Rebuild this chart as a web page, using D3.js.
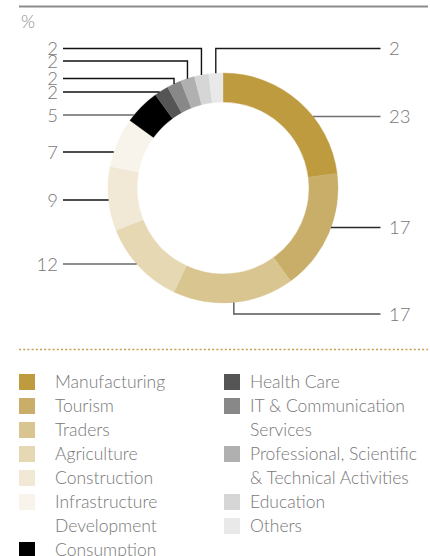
<!DOCTYPE html>
<html>
<head>
<meta charset="utf-8">
<script src="https://cdn.jsdelivr.net/npm/d3@7"></script>
<style>
  html, body { margin: 0; padding: 0; background: #fff; }
  svg { display: block; font-family: Lato, "Open Sans", sans-serif; font-weight: 300; }
</style>
</head>
<body>
<svg id="chart" width="430" height="556"></svg>
<script>
// Sector shares (%), in order around the ring, clockwise from 12 o'clock
const sectors = ["Manufacturing", "Tourism", "Traders", "Agriculture", "Construction",
  "Infrastructure Development", "Consumption", "Health Care", "IT & Communication Services",
  "Professional, Scientific & Technical Activities", "Education", "Others"];
const shares = [23, 17, 17, 12, 9, 7, 5, 2, 2, 2, 2, 2];
const sectorColors = ["#bf9b40", "#c9ae69", "#d8c58f", "#e6d8b3", "#f1e8d5", "#f8f4ec",
  "#000000", "#555555", "#888888", "#b0b0b0", "#d6d6d6", "#e9e9e9"];

// Legend lines (wrapped text) for each column
const legendLeft = [
  { key: 0, lines: ["Manufacturing"] },
  { key: 1, lines: ["Tourism"] },
  { key: 2, lines: ["Traders"] },
  { key: 3, lines: ["Agriculture"] },
  { key: 4, lines: ["Construction"] },
  { key: 5, lines: ["Infrastructure", "Development"] },
  { key: 6, lines: ["Consumption"] }
];
const legendRight = [
  { key: 7, lines: ["Health Care"] },
  { key: 8, lines: ["IT & Communication", "Services"] },
  { key: 9, lines: ["Professional, Scientific", "& Technical Activities"] },
  { key: 10, lines: ["Education"] },
  { key: 11, lines: ["Others"] }
];

// Leader-line layout for the value labels: side, label row, and routing
const leaders = [
  { key: 0, side: "right", y: 116.5, route: "flat", tone: "#707070" },
  { key: 1, side: "right", y: 227.5, route: "flat", tone: "#2a2a2a" },
  { key: 2, side: "right", y: 314, route: "elbow", tone: "#555555" },
  { key: 3, side: "left", y: 264, route: "flat", tone: "#6a6a6a" },
  { key: 4, side: "left", y: 200, route: "flat", tone: "#111111" },
  { key: 5, side: "left", y: 152, route: "flat", tone: "#111111" },
  { key: 6, side: "left", y: 115, route: "flat", tone: "#6a6a6a" },
  { key: 7, side: "left", y: 92, route: "flat", tone: "#111111" },
  { key: 8, side: "left", y: 78.5, route: "elbow", tone: "#111111" },
  { key: 9, side: "left", y: 61, route: "elbow", tone: "#111111" },
  { key: 10, side: "left", y: 48.5, route: "elbow", tone: "#111111" },
  { key: 11, side: "right", y: 48.5, route: "elbow", tone: "#1a1a1a" }
];

const svg = d3.select("#chart");
const textGray = "#777777";

// Top rule and unit
svg.append("line").attr("x1", 19).attr("x2", 428).attr("y1", 6.5).attr("y2", 6.5)
  .attr("stroke", "#8c8c8c").attr("stroke-width", 2);
svg.append("text").attr("x", 21).attr("y", 22).attr("dy", "0.36em").attr("fill", "#8a8a8a")
  .attr("font-size", 18).text("%");

// Ring
const cx = 223, cy = 188, R = 115, r0 = 86;
const pie = d3.pie().sort(null).value(d => d).startAngle(0).endAngle(2 * Math.PI);
const arcs = pie(shares);
const arc = d3.arc().innerRadius(r0).outerRadius(R);

const ring = svg.append("g").attr("transform", `translate(${cx},${cy})`);
ring.selectAll("path").data(arcs).join("path")
  .attr("d", arc)
  .attr("fill", (d, i) => sectorColors[i])
  .attr("stroke", (d, i) => sectorColors[i])
  .attr("stroke-width", 0.4);

// Leaders and value labels
const leftX = 63, rightX = 380.5;
const lg = svg.append("g");
leaders.forEach(L => {
  const a = arcs[L.key];
  const mid = (a.startAngle + a.endAngle) / 2;
  let pts;
  const x0 = L.side === "left" ? leftX : rightX;
  if (L.route === "flat") {
    const dy = L.y - cy;
    const dx = Math.sqrt(R * R - dy * dy);
    const xe = L.side === "left" ? cx - dx : cx + dx;
    pts = [[x0, L.y], [xe, L.y]];
  } else {
    const xm = cx + R * Math.sin(mid);
    const ye = cy - R * Math.cos(mid);
    pts = [[x0, L.y], [xm, L.y], [xm, ye]];
  }
  lg.append("path")
    .attr("d", d3.line()(pts))
    .attr("fill", "none")
    .attr("stroke", L.tone)
    .attr("stroke-width", 1.4);
  lg.append("text")
    .attr("x", L.side === "left" ? 58 : 389)
    .attr("y", L.y)
    .attr("dy", "0.36em")
    .attr("text-anchor", L.side === "left" ? "end" : "start")
    .attr("fill", textGray)
    .attr("font-size", 18.5)
    .text(shares[L.key]);
});

// Dotted divider
svg.append("line").attr("x1", 19).attr("x2", 428).attr("y1", 349.5).attr("y2", 349.5)
  .attr("stroke", "#c4a050").attr("stroke-width", 1.5).attr("stroke-dasharray", "2,2.2");

// Legend
const rowH = 24, firstRow = 382;
function drawLegend(items, swX, txX) {
  let row = 0;
  const g = svg.append("g");
  items.forEach(it => {
    const yc = firstRow + row * rowH;
    g.append("rect").attr("x", swX).attr("y", yc - 8).attr("width", 16).attr("height", 16)
      .attr("fill", sectorColors[it.key]);
    it.lines.forEach((ln, j) => {
      g.append("text").attr("x", txX).attr("y", firstRow + (row + j) * rowH)
        .attr("dy", "0.35em").attr("fill", textGray).attr("font-size", 17.5).text(ln);
    });
    row += it.lines.length;
  });
}
drawLegend(legendLeft, 19, 55);
drawLegend(legendRight, 224, 250);
</script>
</body>
</html>
